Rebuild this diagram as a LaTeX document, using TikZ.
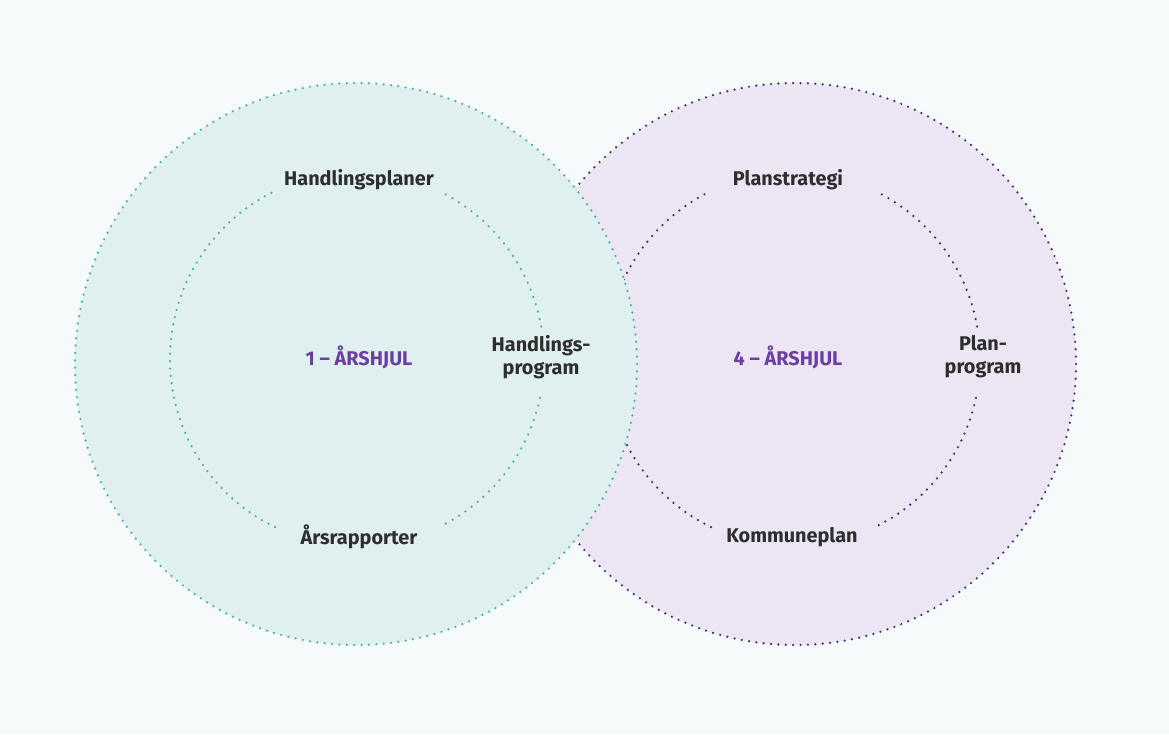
\documentclass[tikz,border=0pt]{standalone}
\usepackage{fontspec}
\usetikzlibrary{decorations}
\setmainfont{Fira Sans}
\definecolor{bgcol}{HTML}{F6FAFB}
\definecolor{tealfill}{HTML}{E0EFEF}
\definecolor{tealdot}{HTML}{3FB59C}
\definecolor{lilafill}{HTML}{EBE5F4}
\definecolor{liladot}{HTML}{3D2A7A}
\definecolor{wheeltxt}{HTML}{6B3FA0}
\definecolor{labeltxt}{HTML}{2E2E2E}
\tikzset{
  dots/.style={line width=1.4pt, line cap=round, dash pattern=on 0pt off 4.2pt, dash expand off},
  lbl/.style={font=\fontsize{11.3}{13.2}\selectfont\bfseries, text=labeltxt, align=center, inner sep=0pt},
  wheel/.style={lbl, text=wheeltxt}
}
\begin{document}
\begin{tikzpicture}[x=0.02cm, y=-0.02cm]
\fill[bgcol] (0,0) rectangle (1169,734);
\useasboundingbox (0,0) rectangle (1169,734);
% right wheel
\fill[lilafill] (795,364) circle (281);
\draw[dots, liladot] (795,364) circle (281);
\draw[dots, liladot] (793,359) ++(116:187) arc (116:244:187);
\draw[dots, liladot] (793,359) ++(-10:187) arc (-10:-64:187);
\draw[dots, liladot] (793,359) ++(12:187) arc (12:65:187);
% left wheel
\fill[tealfill] (356,364) circle (281);
\draw[dots, tealdot] (356,364) circle (281);
\draw[dots, tealdot] (357,359) ++(116:187) arc (116:245:187);
\draw[dots, tealdot] (357,359) ++(-10:187) arc (-10:-64:187);
\draw[dots, tealdot] (357,359) ++(12:187) arc (12:64:187);
% labels
\node[wheel] (aar1) at (359,357) {1 -- ÅRSHJUL};
\node[lbl] (hplaner) at (359,180) {Handlingsplaner};
\node[lbl] (hprog) at (541,357) {Handlings-\\program};
\node[lbl] (rapp) at (359,537) {Årsrapporter};
\node[wheel] (aar4) at (788,357) {4 -- ÅRSHJUL};
\node[lbl] (pstrat) at (788,180) {Planstrategi};
\node[lbl] (pprog) at (983,357) {Plan-\\program};
\node[lbl] (kplan) at (792,537) {Kommuneplan};
\end{tikzpicture}
\end{document}
